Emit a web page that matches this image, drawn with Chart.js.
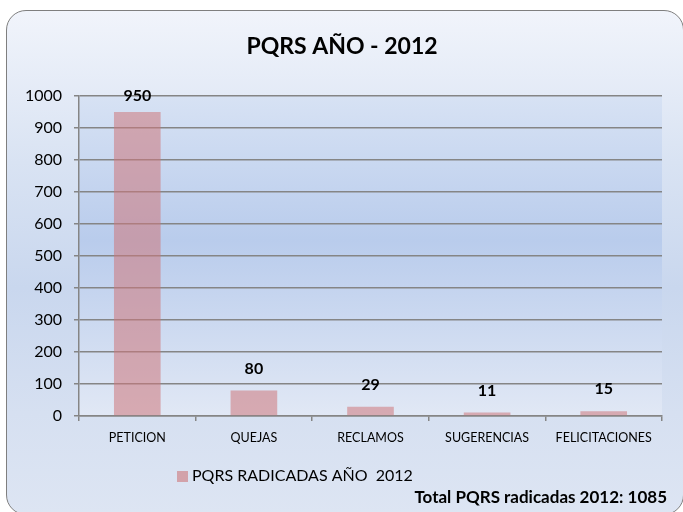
<!DOCTYPE html>
<html>
<head>
<meta charset="utf-8">
<script src="https://cdn.jsdelivr.net/npm/chart.js@4"></script>
<style>
  html, body { margin: 0; padding: 0; background: #ffffff; width: 683px; height: 512px; overflow: hidden; }
  #card {
    position: absolute; left: 6px; top: 10px; width: 678px; height: 505px;
    border: 1.5px solid #7f7f7f; border-radius: 20px; box-sizing: border-box;
    background: linear-gradient(to bottom, #f1f4fb 0%, #d9e3f3 30%, #c9d7ee 55%, #d6e0f1 80%, #dde5f3 100%);
  }
  #wrap { position: absolute; left: 0; top: 0; width: 683px; height: 512px; }
</style>
</head>
<body>
<div id="card"></div>
<div id="wrap"><canvas id="c" width="683" height="512"></canvas></div>
<script>
const categories = ["PETICION", "QUEJAS", "RECLAMOS", "SUGERENCIAS", "FELICITACIONES"];
const values = [950, 80, 29, 11, 15];
const seriesLabel = "PQRS RADICADAS AÑO  2012";
const titleText = "PQRS AÑO - 2012";
const footerText = "Total PQRS radicadas 2012: 1085";
const yTicks = [0, 100, 200, 300, 400, 500, 600, 700, 800, 900, 1000];

const FONT = "Lato, 'Open Sans', 'Liberation Sans', sans-serif";
const barColor = "rgba(205,118,122,0.55)";
const legendSwatch = "rgba(205,118,122,0.6)";

const plotBg = {
  id: 'plotBg',
  beforeDraw(chart) {
    const a = chart.chartArea, ctx = chart.ctx;
    const g = ctx.createLinearGradient(0, a.top, 0, a.bottom);
    g.addColorStop(0, '#d7e2f4');
    g.addColorStop(0.45, '#b9ccec');
    g.addColorStop(1, '#e1e8f5');
    ctx.save();
    ctx.fillStyle = g;
    ctx.fillRect(a.left, a.top, a.right - a.left, a.bottom - a.top);
    ctx.restore();
  }
};

const extras = {
  id: 'extras',
  afterDatasetsDraw(chart) {
    const ctx = chart.ctx, a = chart.chartArea;
    const meta = chart.getDatasetMeta(0);
    ctx.save();
    ctx.fillStyle = '#000';
    ctx.font = "bold 16px " + FONT;
    ctx.textAlign = 'center';
    ctx.textBaseline = 'middle';
    meta.data.forEach((el, i) => {
      const y = Math.max(el.y - 22, a.top);
      ctx.fillText(String(chart.data.datasets[0].data[i]), el.x, y);
    });
    ctx.restore();
  },
  afterDraw(chart) {
    const ctx = chart.ctx;
    ctx.save();
    // title
    ctx.fillStyle = '#000';
    ctx.font = "bold 23px " + FONT;
    ctx.textAlign = 'center';
    ctx.textBaseline = 'middle';
    ctx.fillText(titleText, 342, 47);
    // legend
    ctx.fillStyle = legendSwatch;
    ctx.fillRect(177, 471, 11, 11);
    ctx.fillStyle = '#000';
    ctx.font = "16px " + FONT;
    ctx.textAlign = 'left';
    ctx.fillText(chart.data.datasets[0].label, 192, 476);
    // footer
    ctx.font = "bold 17px " + FONT;
    ctx.textAlign = 'right';
    ctx.fillText(footerText, 667, 498);
    ctx.restore();
  }
};

new Chart(document.getElementById('c'), {
  type: 'bar',
  data: {
    labels: categories,
    datasets: [{
      label: seriesLabel,
      data: values,
      backgroundColor: barColor,
      borderWidth: 0,
      barPercentage: 0.4,
      categoryPercentage: 1.0
    }]
  },
  options: {
    responsive: false,
    animation: false,
    layout: { padding: { left: 0, right: 21, top: 96, bottom: 0 } },
    plugins: {
      legend: { display: false },
      tooltip: { enabled: false },
      title: { display: false }
    },
    scales: {
      x: {
        afterFit(s) { s.height = 96; },
        grid: { drawOnChartArea: false, drawTicks: true, tickLength: 5, color: '#858585', lineWidth: 1.5 },
        border: { display: true, color: '#858585', width: 1.5 },
        ticks: { color: '#000', font: { family: FONT, size: 12.5 }, padding: 9, maxRotation: 0, autoSkip: false }
      },
      y: {
        min: 0, max: 1000,
        afterFit(s) { s.width = 79; },
        afterBuildTicks(s) { s.ticks = yTicks.map(v => ({ value: v })); },
        grid: { color: '#858585', lineWidth: 1.5, drawTicks: true, tickLength: 5 },
        border: { display: true, color: '#858585', width: 1.5 },
        ticks: { color: '#000', font: { family: FONT, size: 16 }, padding: 12, callback: v => String(v) }
      }
    }
  },
  plugins: [plotBg, extras]
});
</script>
</body>
</html>
